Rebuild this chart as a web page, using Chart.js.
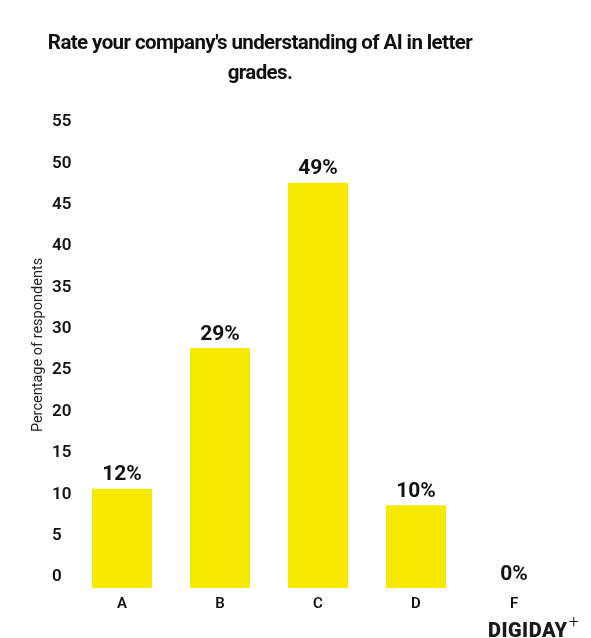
<!DOCTYPE html>
<html>
<head>
<meta charset="utf-8">
<script src="https://cdn.jsdelivr.net/npm/chart.js@4"></script>
<style>
  body { margin: 0; background: #fff; font-family: Roboto, sans-serif; }
  #wrap { position: relative; width: 591px; height: 638px; }
  #title { position: absolute; left: 0; width: 520px; top: 27px; text-align: center;
           font: bold 20.5px/30px Roboto, sans-serif; letter-spacing: -0.6px; color: #111; }
  #logo { position: absolute; left: 488px; top: 612px; font: 900 20px/22px Roboto, sans-serif;
          color: #1a1a1a; letter-spacing: 0.5px; }
  #logo sup { font-weight: 300; font-size: 18px; position: relative; top: -1px; margin-left: 1px; }
</style>
</head>
<body>
<div id="wrap">
  <canvas id="Bar" width="591" height="638"></canvas>
  <div id="title">Rate your company's understanding of AI in letter<br>grades.</div>
  <div id="logo">DIGIDAY<sup>+</sup></div>
</div>
<script>
const grades = ['A', 'B', 'C', 'D', 'F'];
const respondents = [12, 29, 49, 10, 0];
const yTicks = [0, 5, 10, 15, 20, 25, 30, 35, 40, 45, 50, 55];

// percentage labels above each bar
const barLabels = {
  id: 'barLabels',
  afterDatasetsDraw(chart) {
    const ctx = chart.ctx;
    ctx.save();
    ctx.font = 'bold 21px Roboto';
    ctx.fillStyle = '#111';
    ctx.textAlign = 'center';
    ctx.textBaseline = 'bottom';
    chart.getDatasetMeta(0).data.forEach((bar, i) => {
      ctx.fillText(respondents[i] + '%', bar.x, bar.y - 3);
    });
    ctx.restore();
  }
};

// y axis title, drawn left of the tick labels
const yTitle = {
  id: 'yTitle',
  afterDraw(chart) {
    const ctx = chart.ctx;
    ctx.save();
    ctx.translate(38, 345);
    ctx.rotate(-Math.PI / 2);
    ctx.font = '14.5px Roboto';
    ctx.fillStyle = '#222';
    ctx.textAlign = 'center';
    ctx.textBaseline = 'middle';
    ctx.fillText('Percentage of respondents', 0, 0);
    ctx.restore();
  }
};

const ctx = document.getElementById('Bar');

new Chart(ctx, {
  type: 'bar',
  data: {
    labels: grades,
    datasets: [{
      label: 'Percentage of respondents',
      data: respondents,
      backgroundColor: '#f6ea00',
      borderWidth: 0,
      categoryPercentage: 0.8,
      barPercentage: 0.765
    }]
  },
  options: {
    responsive: false,
    animation: false,
    layout: { padding: { left: 52, right: 28, top: 133, bottom: 18 } },
    plugins: {
      legend: { display: false },
      tooltip: { enabled: false }
    },
    scales: {
      x: {
        grid: { display: false, drawTicks: false },
        border: { display: false },
        ticks: { padding: 7, color: '#111', font: { family: 'Roboto', size: 15, weight: '600' } }
      },
      y: {
        min: 0,
        max: 55,
        afterBuildTicks(scale) { scale.ticks = yTicks.map(v => ({ value: v })); },
        afterFit(scale) { scale.width = 21; },
        grid: { display: false, drawTicks: false },
        border: { display: false },
        ticks: {
          crossAlign: 'far',
          labelOffset: -11,
          color: '#111',
          font: { family: 'Roboto', size: 17, weight: '600' }
        }
      }
    }
  },
  plugins: [barLabels, yTitle]
});
</script>
</body>
</html>
